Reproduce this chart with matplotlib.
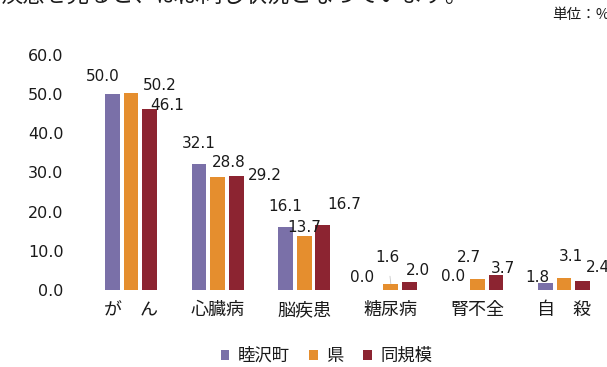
import matplotlib
matplotlib.use('agg')
import matplotlib.pyplot as plt
import numpy as np

plt.rcParams['font.family'] = ['Noto Sans CJK JP', 'DejaVu Sans']

# data
categories = ['が\u3000ん', '心臓病', '脳疾患', '糖尿病', '腎不全', '自\u3000殺']
series_names = ['睦沢町', '県', '同規模']
mutsuzawa = [50.0, 32.1, 16.1, 0.0, 0.0, 1.8]
ken = [50.2, 28.8, 13.7, 1.6, 2.7, 3.1]
doukibo = [46.1, 29.2, 16.7, 2.0, 3.7, 2.4]
yticks = [0, 10, 20, 30, 40, 50, 60]

colors = ['#7a70a8', '#e58e2e', '#8c2431']

# label offsets in pixels (dx, dy) from top centre of each bar, as placed in the original
offsets = [
  [(-10, 18), (0, 21), (0, 20), (-10, 12), (-6, 13), (-8, 5)],
  [(29, 8), (11, 15), (0, 9), (-3, 26), (-9, 22), (7, 21)],
  [(18, 4), (29, 0), (21, 20), (8, 12), (7, 7), (15, 13)],
]

fig = plt.figure(figsize=(6.07, 3.67), dpi=100)
ax = fig.add_axes([0.130, 0.210, 0.885, 0.640])

x = np.arange(len(categories))
width = 0.17
step = 0.215
for k, vals in enumerate([mutsuzawa, ken, doukibo]):
  xs = x + (k - 1)*step
  ax.bar(xs, vals, width, color=colors[k], label=series_names[k])
  for j, v in enumerate(vals):
    dx, dy = offsets[k][j]
    # leader line for labels lifted far from small bars
    arrow = None
    if dy > 20 and v < 2:
      arrow = dict(arrowstyle='-', color='#c8c8c8', lw=0.6, shrinkA=6, shrinkB=0)
    ax.annotate('{:.1f}'.format(v), (xs[j], v), xytext=(dx*0.72, dy*0.72),
                textcoords='offset points', ha='center', va='center',
                fontsize=11, family='DejaVu Sans', color='#1a1a1a',
                annotation_clip=False, arrowprops=arrow)

ax.set_xlim(-0.6, 5.6)
ax.set_ylim(0, 60)
ax.set_yticks(yticks)
ax.set_yticklabels(['{:.1f}'.format(t) for t in yticks], fontsize=11.5,
                   family='DejaVu Sans', color='#1a1a1a')
ax.set_xticks(x)
ax.set_xticklabels(categories, fontsize=13, color='#1a1a1a')
ax.tick_params(length=0)
ax.tick_params(axis='x', pad=8)
ax.tick_params(axis='y', pad=11)
for s in ax.spines.values():
  s.set_visible(False)

leg = fig.legend(loc='center', bbox_to_anchor=(0.538, 0.03), ncol=3, frameon=False,
                 fontsize=12.5, handlelength=0.5, handleheight=0.5, handletextpad=0.5,
                 columnspacing=1.1)
for t in leg.get_texts():
  t.set_color('#1a1a1a')

fig.text(1.004, 0.960, '単位：%', ha='right', va='center', fontsize=10.5, color='#1a1a1a')
fig.text(0.0, 0.992, '疾患を見ると、ほぼ同じ状況となっています。', ha='left', va='baseline',
         fontsize=16, color='#1a1a1a')

fig.savefig('out.png', dpi=100)
